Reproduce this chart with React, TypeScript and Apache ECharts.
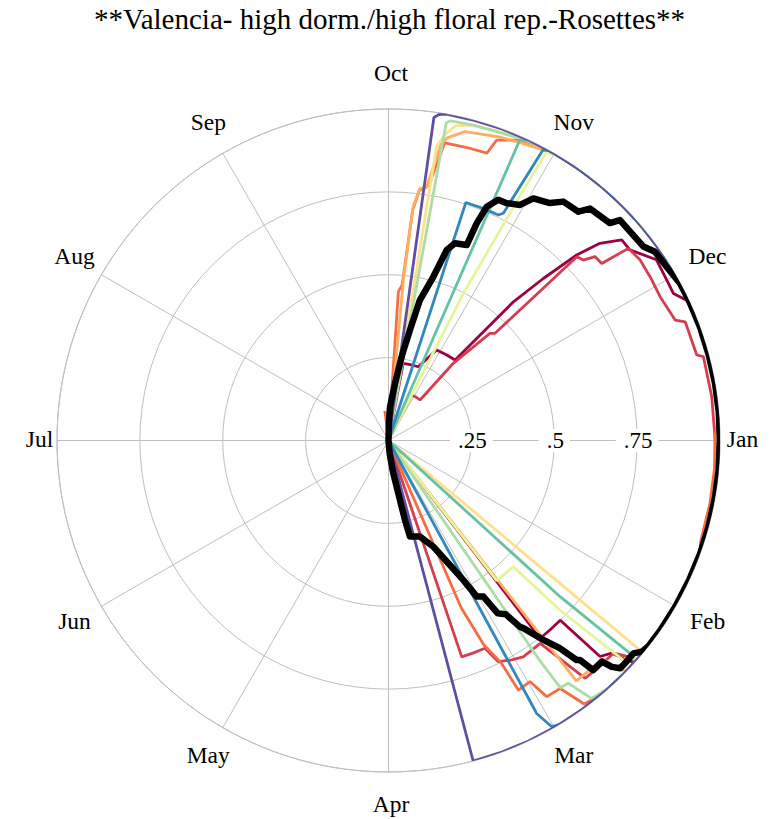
import React, { useEffect, useRef } from "react";
import * as echarts from "echarts";

// ---------- data (season angle in degrees from Oct 1, clockwise; radius 0..1) ----------
const MONTHS = ["Jan", "Feb", "Mar", "Apr", "May", "Jun", "Jul", "Aug", "Sep", "Oct", "Nov", "Dec"];
const RADIUS_TICKS = [0.25, 0.5, 0.75];
const RADIUS_TICK_LABELS = [".25", ".5", ".75"];
const TITLE = "**Valencia- high dorm./high floral rep.-Rosettes**";

const CRIMSON: number[][] = [
  [10.5, 0], [10.8, 0.237], [16, 0.238], [22, 0.24], [28, 0.309], [34, 0.312], [39.6, 0.315], [42, 0.563],
  [43.7, 0.676], [45.4, 0.797], [47, 0.872], [49.3, 0.928], [51.7, 0.928], [56, 0.975], [60, 0.969], [62.7, 0.967],
  [64.8, 0.994], [68, 1], [73, 1], [78, 1], [83, 1], [88, 1], [93, 1], [98, 1], [103, 1], [108, 1], [113, 1], [118, 1],
  [123, 1], [128, 1], [132, 1], [132.7, 0.977], [133.6, 0.93], [135.6, 0.912], [136.3, 0.75], [139.5, 0.751],
  [142.5, 0.752], [142.5, 0],
];
const RED: number[][] = [
  [27, 0], [27, 0.154], [32, 0.155], [37.9, 0.155], [40, 0.304], [43.4, 0.445], [44.8, 0.456], [45.7, 0.794],
  [47.2, 0.801], [48.3, 0.834], [50.3, 0.836], [51.3, 0.927], [54.3, 0.934], [58.1, 0.931], [62.1, 0.927],
  [67.2, 0.938], [68.2, 0.964], [74.5, 0.965], [75.1, 0.983], [82.3, 0.984], [89.6, 0.985], [93, 0.99], [96, 1],
  [101, 1], [106, 1], [111, 1], [116, 1], [121, 1], [126, 1], [131.5, 1], [132, 0.974], [133.4, 0.934], [137, 0.932],
  [140.4, 0.931], [143.2, 0.764], [148.1, 0.769], [150.7, 0.759], [153.6, 0.745], [155.1, 0.691], [158, 0.69],
  [161.3, 0.689], [161.5, 0],
];
const ORANGE: number[][] = [
  [-7, 0], [-7, 0.09], [-6, 0], [3, 0], [3.8, 0.45], [5, 0.47], [6, 0.7], [7, 0.76], [9, 0.78], [10.7, 0.914],
  [15, 0.915], [18.9, 0.916], [19.8, 0.963], [23.6, 0.989], [27, 1], [32, 1], [37, 1], [42, 1], [47, 1], [52, 1],
  [57, 1], [62, 1], [67, 1], [72, 1], [77, 1], [82, 1], [86, 1], [89, 0.985], [95, 0.987], [101, 0.988], [108, 0.99],
  [110, 1], [115, 1], [120, 1], [125, 1], [130, 1], [135, 1], [140, 1], [143.4, 0.99], [145.3, 0.91], [148.3, 0.908],
  [149.6, 0.843], [152.5, 0.849], [153.1, 0.754], [155, 0.68], [156.5, 0.55], [156.5, 0],
];
const LIGHT_ORANGE: number[][] = [
  [4.5, 0], [5.3, 0.49], [6, 0.709], [7.1, 0.767], [8.5, 0.77], [10.1, 0.911], [11, 0.93], [13.9, 0.96], [20, 0.975],
  [25, 0.985], [30, 1], [35, 1], [40, 1], [45, 1], [50, 1], [55, 1], [60, 1], [65, 1], [70, 1], [75, 1], [80, 1],
  [85, 1], [90, 1], [95, 1], [100, 1], [105, 1], [110, 1], [115, 1], [120, 1], [125, 1], [130, 1], [134, 1],
  [134.7, 0.983], [135.6, 0.92], [139, 0.921], [142, 0.92], [142, 0],
];
const YELLOW: number[][] = [
  [9, 0], [9.3, 0.9], [10.5, 0.94], [12, 0.97], [15, 0.985], [20, 0.99], [26, 1], [31, 1], [36, 1], [41, 1], [46, 1],
  [51, 1], [56, 1], [61, 1], [66, 1], [71, 1], [76, 1], [81, 1], [86, 1], [91, 1], [96, 1], [101, 1], [106, 1],
  [111, 1], [116, 1], [121, 1], [126, 1], [129.5, 1], [129.8, 0.99], [130.3, 0],
];
const PALE_GREEN: number[][] = [
  [27, 0], [27, 0.5], [28.3, 0.86], [28.7, 0.99], [31, 1], [36, 1], [41, 1], [46, 1], [51, 1], [56, 1], [61, 1],
  [66, 1], [71, 1], [76, 1], [81, 1], [86, 1], [91, 1], [96, 1], [101, 1], [106, 1], [111, 1], [116, 1], [121, 1],
  [126, 1], [131, 1], [133.1, 0.97], [134.7, 0.727], [135.3, 0.535], [139, 0.534], [142.3, 0.534], [142.3, 0],
];
const LIGHT_GREEN: number[][] = [
  [10, 0], [10.3, 0.975], [11, 0.982], [15, 0.985], [19.3, 0.987], [24, 0.995], [28, 1], [33, 1], [38, 1], [43, 1],
  [48, 1], [53, 1], [58, 1], [63, 1], [68, 1], [73, 1], [78, 1], [83, 1], [88, 1], [93, 1], [98, 1], [103, 1],
  [108, 1], [113, 1], [118, 1], [123, 1], [128, 1], [133, 1], [138, 1], [141.8, 0.99], [143.5, 0.911],
  [145.2, 0.908], [145.5, 0.8], [145.6, 0],
];
const TEAL: number[][] = [
  [23.6, 0], [23.6, 0.99], [25, 1], [30, 1], [35, 1], [40, 1], [45, 1], [50, 1], [55, 1], [60, 1], [65, 1], [70, 1],
  [75, 1], [80, 1], [85, 1], [90, 1], [95, 1], [100, 1], [105, 1], [110, 1], [115, 1], [120, 1], [125, 1], [130, 1],
  [131.4, 0.97], [132.3, 0.7], [132.5, 0],
];
const BLUE: number[][] = [
  [18, 0], [18, 0.755], [22, 0.756], [26, 0.757], [26.8, 0.768], [28, 0.993], [29, 1], [34, 1], [39, 1], [44, 1],
  [49, 1], [54, 1], [59, 1], [64, 1], [69, 1], [74, 1], [79, 1], [84, 1], [89, 1], [94, 1], [99, 1], [104, 1],
  [109, 1], [114, 1], [119, 1], [124, 1], [129, 1], [134, 1], [139, 1], [144, 1], [149, 1], [150.3, 0.994],
  [151.5, 0.937], [151.5, 0],
];
const PURPLE: number[][] = [
  [8, 0], [8, 0.984], [8.8, 0.995], [10.1, 1], [15, 1], [20, 1], [25, 1], [30, 1], [35, 1], [40, 1], [45, 1], [50, 1],
  [55, 1], [60, 1], [65, 1], [70, 1], [75, 1], [80, 1], [85, 1], [90, 1], [95, 1], [100, 1], [105, 1], [110, 1],
  [115, 1], [120, 1], [125, 1], [130, 1], [135, 1], [140, 1], [145, 1], [150, 1], [155, 1], [160, 1], [165.2, 1],
  [165.2, 0],
];
const MEAN: number[][] = [
  [0, 0], [1.5, 0.05], [2.5, 0.1], [6.5, 0.174], [9, 0.26], [11, 0.34], [12.6, 0.434], [15.3, 0.512], [17, 0.601],
  [18.6, 0.628], [21.8, 0.635], [22.1, 0.707], [22.8, 0.765], [24.5, 0.798], [26.5, 0.8], [29.2, 0.814],
  [30.9, 0.851], [34.2, 0.866], [36.2, 0.893], [39.7, 0.897], [41, 0.927], [45.5, 0.936], [46.4, 0.964],
  [52.7, 0.966], [54.7, 0.985], [58, 0.989], [61.7, 0.999], [65, 1], [70, 1], [75, 1], [80, 1], [85, 1], [90, 1],
  [95, 1], [100, 1], [105, 1], [110, 1], [115, 1], [120, 1], [125, 1], [128.3, 1], [129.8, 0.995], [131, 0.979],
  [133.3, 0.98], [134.5, 0.98], [135.4, 0.959], [136, 0.927], [138.3, 0.928], [138.9, 0.879], [139.4, 0.872],
  [140.5, 0.812], [142.2, 0.76], [144.3, 0.697], [144.8, 0.688], [146, 0.632], [147.7, 0.617], [148.7, 0.551],
  [150.5, 0.541], [151.8, 0.478], [154.3, 0.405], [157.1, 0.348], [161.9, 0.305], [167.4, 0.297], [168.3, 0.245],
  [171.7, 0.1], [175, 0.04], [178, 0],
];

const SERIES_DEFS = [
  { name: "s1", color: "#9e0142", data: CRIMSON },
  { name: "s2", color: "#d53e4f", data: RED },
  { name: "s3", color: "#f46d43", data: ORANGE },
  { name: "s4", color: "#fdae61", data: LIGHT_ORANGE },
  { name: "s5", color: "#fee08b", data: YELLOW },
  { name: "s6", color: "#e6f598", data: PALE_GREEN },
  { name: "s7", color: "#abdda4", data: LIGHT_GREEN },
  { name: "s8", color: "#66c2a5", data: TEAL },
  { name: "s9", color: "#3288bd", data: BLUE },
  { name: "s10", color: "#5e4fa2", data: PURPLE },
];

// ---------- layout ----------
const W = 779;
const H = 819;
const CX = 388.5;
const CY = 440.5;
const R = 331.5;
const GRID = "#bfbfbf";
const FONT = "'Liberation Serif', 'Times New Roman', serif";

// season angle (0 = Oct 1, clockwise) -> angle-axis value (0 = Jan 1 at right, clockwise)
const toPolar = (p: number[]) => [p[1], (p[0] + 270 + 360) % 360];

function buildOption() {
  const series: any[] = SERIES_DEFS.map((s) => ({
    name: s.name,
    type: "line",
    coordinateSystem: "polar",
    data: s.data.map(toPolar),
    symbol: "none",
    showSymbol: false,
    lineStyle: { color: s.color, width: 2.8 },
    itemStyle: { color: s.color },
    z: 2,
  }));
  series.push({
    name: "mean",
    type: "line",
    coordinateSystem: "polar",
    data: MEAN.map(toPolar),
    symbol: "none",
    showSymbol: false,
    lineStyle: { color: "#000", width: 6.5, join: "round", cap: "round" },
    itemStyle: { color: "#000" },
    z: 3,
  });

  const monthTexts = MONTHS.map((m, i) => {
    const th = (i * 30 * Math.PI) / 180;
    const d = R + 20 + 14 * Math.min(1, 2 * Math.abs(Math.sin(th)));
    return {
      type: "text",
      x: CX + d * Math.cos(th) + 2.5,
      y: CY + d * Math.sin(th) - 2,
      silent: true,
      style: {
        text: m,
        fontFamily: FONT,
        fontSize: 23.5,
        fill: "#000",
        align: "center",
        verticalAlign: "middle",
      },
    };
  });

  return {
    animation: false,
    backgroundColor: "#ffffff",
    polar: { center: [CX, CY], radius: R },
    angleAxis: {
      type: "value",
      min: 0,
      max: 360,
      interval: 30,
      startAngle: 0,
      clockwise: true,
      axisLine: { show: true, lineStyle: { color: GRID, width: 1 } },
      axisTick: { show: false },
      axisLabel: { show: false },
      splitLine: { show: true, lineStyle: { color: GRID, width: 1 } },
      z: 0,
    },
    radiusAxis: {
      type: "value",
      min: 0,
      max: 1,
      interval: 0.25,
      axisLine: { show: true, lineStyle: { color: GRID, width: 1 } },
      axisTick: { show: false },
      splitLine: { show: true, lineStyle: { color: GRID, width: 1 } },
      axisLabel: {
        show: true,
        margin: 0,
        align: "center",
        verticalAlign: "middle",
        fontFamily: FONT,
        fontSize: 23,
        color: "#000",
        backgroundColor: "#ffffff",
        padding: [0, 6, 0, 8],
        formatter: (v: number) => {
          const k = RADIUS_TICKS.indexOf(v);
          return k >= 0 ? RADIUS_TICK_LABELS[k] : "";
        },
      },
      z: 1,
    },
    series,
    graphic: [
      {
        type: "text",
        x: W / 2,
        y: 18.5,
        silent: true,
        style: {
          text: TITLE,
          fontFamily: FONT,
          fontSize: 29,
          fill: "#000",
          align: "center",
          verticalAlign: "middle",
        },
      },
      ...monthTexts,
    ],
  };
}

export default function App() {
  const ref = useRef<HTMLDivElement>(null);
  useEffect(() => {
    document.body.style.margin = "0";
    const chart = echarts.init(ref.current as HTMLDivElement, null, { renderer: "svg" });
    chart.setOption(buildOption() as any);
    return () => chart.dispose();
  }, []);
  return <div ref={ref} style={{ width: W, height: H }} />;
}
